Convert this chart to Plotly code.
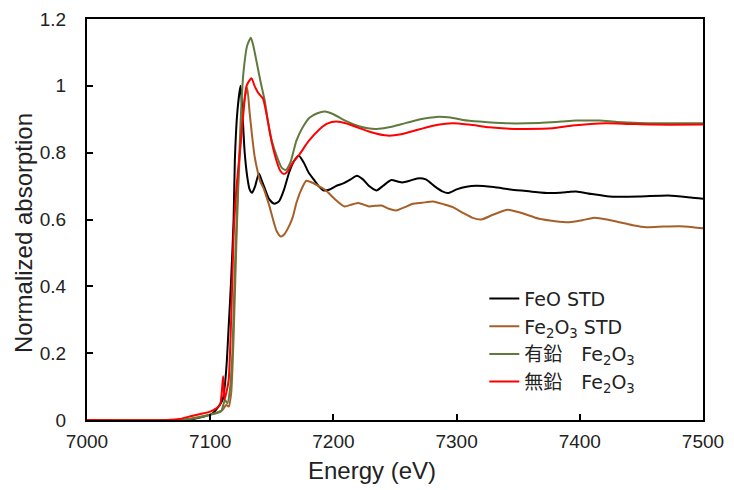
import plotly.graph_objects as go

# FeO STD (black)
feo_e = [7000, 7080, 7095, 7102, 7110, 7113, 7115, 7117, 7119, 7120, 7122, 7124.6, 7126, 7128, 7130, 7132,
         7134, 7136.5, 7139.5, 7141.5, 7144, 7148, 7152, 7156, 7160, 7164, 7168, 7172, 7176, 7180, 7184,
         7188, 7192, 7197, 7202, 7208, 7214, 7219, 7224, 7229, 7235, 7240, 7247, 7252, 7256, 7262, 7268,
         7275, 7282, 7288, 7293, 7300, 7308, 7316, 7330, 7345, 7360, 7375, 7390, 7397, 7410, 7424, 7448,
         7472, 7490, 7500]
feo_a = [0, 0, 0.01, 0.02, 0.06, 0.15, 0.28, 0.42, 0.6, 0.776, 0.92, 1.0, 0.93, 0.8, 0.73, 0.69,
         0.68, 0.70, 0.738, 0.72, 0.696, 0.66, 0.647, 0.655, 0.69, 0.74, 0.775, 0.791, 0.77, 0.74, 0.72,
         0.70, 0.687, 0.69, 0.70, 0.708, 0.72, 0.731, 0.72, 0.70, 0.687, 0.70, 0.718, 0.714, 0.711, 0.716, 0.723,
         0.72, 0.70, 0.685, 0.679, 0.69, 0.698, 0.701, 0.697, 0.689, 0.684, 0.679, 0.682, 0.684, 0.676, 0.669, 0.669,
         0.672, 0.666, 0.662]

# Fe2O3 STD (brown)
fe2o3_e = [7000, 7075, 7085, 7095, 7105, 7110, 7113, 7115, 7117, 7119, 7121, 7123, 7125, 7127.5, 7130,
           7132, 7134, 7136, 7139, 7141, 7143, 7145.5, 7148.3, 7151, 7154, 7157.3, 7160, 7164, 7167, 7170,
           7174, 7178, 7183, 7188, 7194, 7200, 7209, 7215, 7221, 7229, 7234, 7239, 7245, 7251, 7258, 7264.5,
           7272, 7281, 7290, 7297, 7305, 7313, 7320, 7330, 7341.5, 7352, 7367, 7380, 7391.5, 7402, 7412,
           7422, 7432, 7443, 7454, 7468, 7481, 7492, 7500]
fe2o3_a = [0, 0, 0.005, 0.012, 0.022, 0.03, 0.045, 0.04, 0.08, 0.25, 0.5, 0.72, 0.85, 0.95, 0.995,
           0.92, 0.85, 0.79, 0.736, 0.71, 0.696, 0.67, 0.637, 0.6, 0.565, 0.549, 0.555, 0.58, 0.607, 0.65,
           0.69, 0.716, 0.71, 0.70, 0.687, 0.665, 0.639, 0.645, 0.649, 0.639, 0.641, 0.642, 0.632, 0.627, 0.637, 0.647,
           0.65, 0.654, 0.645, 0.637, 0.62, 0.605, 0.600, 0.615, 0.629, 0.62, 0.602, 0.595, 0.592, 0.598, 0.605,
           0.6, 0.592, 0.583, 0.577, 0.579, 0.580, 0.577, 0.574]

# 有鉛 Fe2O3 (olive green)
leaded_e = [7000, 7078, 7088, 7098, 7105, 7109, 7112, 7114, 7116, 7118, 7120, 7122, 7123.5, 7125, 7127,
            7130, 7133, 7135, 7137.5, 7141, 7144.3, 7147, 7150, 7154, 7158, 7161.3, 7165, 7170, 7175, 7180.8,
            7187, 7193, 7200, 7210, 7220, 7228, 7235, 7245, 7255, 7265, 7275, 7283.5, 7295, 7305, 7318.6,
            7340, 7367, 7385, 7397, 7416, 7430, 7448, 7470, 7500]
leaded_a = [0, 0, 0.006, 0.014, 0.02, 0.027, 0.06, 0.05, 0.09, 0.2, 0.45, 0.65, 0.78, 0.92, 1.04,
            1.12, 1.144, 1.12, 1.075, 1.01, 0.955, 0.89, 0.836, 0.79, 0.755, 0.748, 0.77, 0.836, 0.875, 0.905,
            0.918, 0.923, 0.915, 0.895, 0.88, 0.873, 0.871, 0.876, 0.885, 0.895, 0.903, 0.907, 0.905, 0.898, 0.893,
            0.888, 0.889, 0.893, 0.896, 0.896, 0.892, 0.889, 0.888, 0.888]

# 無鉛 Fe2O3 (red)
unleaded_e = [7000, 7065, 7075, 7085, 7092, 7100, 7105, 7108, 7110.5, 7111.5, 7113, 7115, 7117, 7119, 7121,
              7124, 7126.5, 7129.5, 7133.5, 7136, 7138.8, 7141, 7143, 7146, 7150, 7153.8, 7157, 7159.7, 7163,
              7167, 7172.7, 7180, 7189, 7195, 7202.4, 7210, 7220, 7230, 7244, 7255, 7265, 7280, 7297, 7310,
              7326.7, 7340, 7356, 7378, 7394, 7421, 7440, 7459, 7500]
unleaded_a = [0, 0, 0.003, 0.012, 0.018, 0.025, 0.035, 0.045, 0.131, 0.06, 0.08, 0.12, 0.3, 0.55, 0.68,
              0.8, 0.9, 1.0, 1.023, 1.0, 0.98, 0.97, 0.96, 0.91, 0.83, 0.776, 0.745, 0.736, 0.745,
              0.77, 0.796, 0.835, 0.871, 0.887, 0.893, 0.888, 0.875, 0.862, 0.851, 0.855, 0.865, 0.88, 0.888, 0.884,
              0.876, 0.872, 0.871, 0.873, 0.881, 0.888, 0.886, 0.884, 0.884]

x_ticks = [7000, 7100, 7200, 7300, 7400, 7500]
y_ticks = [0, 0.2, 0.4, 0.6, 0.8, 1, 1.2]
y_ticktext = ["0", "0.2", "0.4", "0.6", "0.8", "1", "1.2"]

series = [
    ("FeO STD", feo_e, feo_a, "#000000"),
    ("Fe<sub>2</sub>O<sub>3</sub> STD", fe2o3_e, fe2o3_a, "#A65F28"),
    ("有鉛　Fe<sub>2</sub>O<sub>3</sub>", leaded_e, leaded_a, "#5F7A3C"),
    ("無鉛　Fe<sub>2</sub>O<sub>3</sub>", unleaded_e, unleaded_a, "#FF0000"),
]

fig = go.Figure()
for name, e, a, c in series:
    fig.add_trace(go.Scatter(x=e, y=a, name=name, mode="lines",
                             line=dict(color=c, width=2, shape="spline", smoothing=0.6)))

tick_font = dict(family="Liberation Sans, Arial, sans-serif", size=19, color="#222222")
title_font = dict(family="Liberation Sans, Arial, sans-serif", size=24, color="#222222")

fig.update_layout(
    width=726, height=482,
    margin=dict(l=79, r=31, t=11, b=70, autoexpand=False),
    paper_bgcolor="white", plot_bgcolor="white",
    font=tick_font,
    showlegend=True,
    legend=dict(x=0.645, y=0.35, xanchor="left", yanchor="top",
                bgcolor="rgba(0,0,0,0)",
                font=dict(family="DejaVu Sans, Noto Sans CJK JP, sans-serif", size=19, color="#222222"),
                itemwidth=30, tracegroupgap=0),
    xaxis=dict(range=[7000, 7500], tickvals=x_ticks,
               ticks="inside", ticklen=6, tickwidth=2, tickcolor="black",
               showline=True, linecolor="black", linewidth=2, mirror=True,
               showgrid=False, zeroline=False, automargin=False,
               ticklabelstandoff=3,
               tickfont=tick_font),
    yaxis=dict(range=[0, 1.2], tickvals=y_ticks, ticktext=y_ticktext,
               ticks="inside", ticklen=6, tickwidth=2, tickcolor="black",
               showline=True, linecolor="black", linewidth=2, mirror=True,
               showgrid=False, zeroline=False, automargin=False,
               ticklabelstandoff=15,
               tickfont=tick_font),
    annotations=[
        dict(text="Energy (eV)", xref="paper", yref="paper", x=0.4627, y=-0.1247,
             xanchor="center", yanchor="middle", showarrow=False, font=title_font),
        dict(text="Normalized absorption", xref="paper", yref="paper", x=-0.104, y=0.466,
             xanchor="center", yanchor="middle", showarrow=False, textangle=-90, font=title_font),
    ],
)

fig.write_html("out.html")
